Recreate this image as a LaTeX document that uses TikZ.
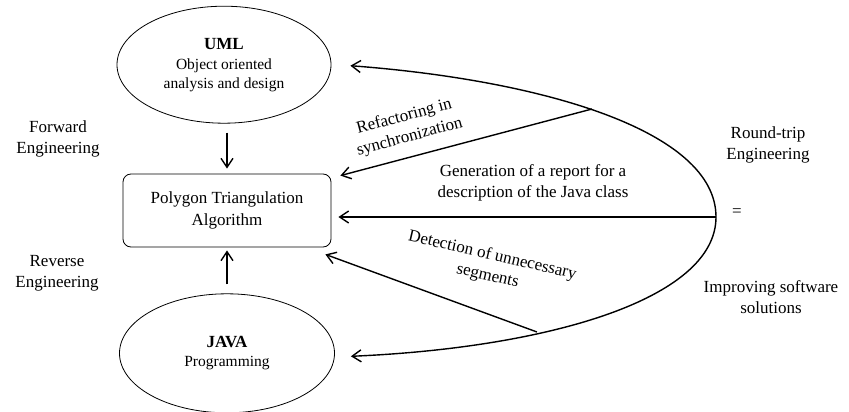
\documentclass[tikz,border=0pt]{standalone}
\usepackage{fontspec}
\setmainfont{Liberation Serif}
\usetikzlibrary{arrows.meta,positioning,shapes.geometric,calc}
\tikzset{
    oval/.style={ellipse, draw, line width=0.8pt, inner sep=0pt,
        minimum width=214pt, minimum height=117pt, align=center,
        font=\fontsize{15.5}{19}\selectfont},
    box/.style={rectangle, rounded corners=8pt, draw, line width=0.8pt,
        minimum width=208pt, minimum height=73pt, align=center,
        font=\fontsize{17}{22}\selectfont},
    lbl/.style={align=center, inner sep=0pt, font=\fontsize{17}{21}\selectfont},
    arrow/.style={-{Straight Barb[length=9pt,width=12pt]}, line width=1.4pt}
}
\newcommand{\ovtitle}[1]{{\fontsize{17}{20}\selectfont\bfseries #1}}

\begin{document}
\begin{tikzpicture}[x=1pt, y=-1pt]
    \useasboundingbox (0,0) rectangle (849,412);
    \node[box] (alg) at (227,210.5) {Polygon Triangulation\\Algorithm};
    \node[oval, above=50pt of alg.north, anchor=south, xshift=-3pt] (uml)
        {\ovtitle{UML}\\[1pt]Object oriented\\analysis and design};
    \node[oval, below=46pt of alg.south, anchor=north, minimum width=215pt,
        minimum height=119pt] (java)
        {\ovtitle{JAVA}\\[0pt]Programming};
    \node[lbl] (fwd) at (58,139) {Forward\\Engineering};
    \node[lbl] (rev) at (57,273) {Reverse\\Engineering};
    \node[lbl] (rte) at (768,145) {Round-trip\\Engineering};
    \node[lbl] (eq) at (737,213) {=};
    \node[lbl] (isw) at (771,297) {Improving software\\solutions};
    % points on the round-trip curve
    \coordinate (rt) at (716,217);
    \coordinate (up) at (592,109);
    \coordinate (dn) at (537,332);
    \draw[arrow, shorten <=9pt, shorten >=5pt] (uml.south -| alg.north) -- (alg.north);
    \draw[arrow, shorten <=9pt, shorten >=3pt] (java.north -| alg.south) -- (alg.south);
    \draw[arrow] (rt) .. controls (716,130) and (540,80) .. ($(uml.east)+(19,1)$);
    \draw[arrow] (rt) .. controls (716,300) and (545,348) .. ($(java.east)+(16,3)$);
    \draw[arrow] (up) -- ([shift={(9,2)}]alg.north east);
    \draw[arrow] (rt) -- ([xshift=7pt]alg.east |- rt);
    \draw[arrow] (dn) -- ([shift={(-6,7)}]alg.south east);
    \node[lbl, rotate=15] (ref) at (407,127) {Refactoring in\\synchronization};
    \node[lbl] (gen) at (533,183) {Generation of a report for a\\description of the Java class};
    \node[lbl, rotate=-13] (det) at (490,266) {Detection of unnecessary\\segments};
\end{tikzpicture}
\end{document}
